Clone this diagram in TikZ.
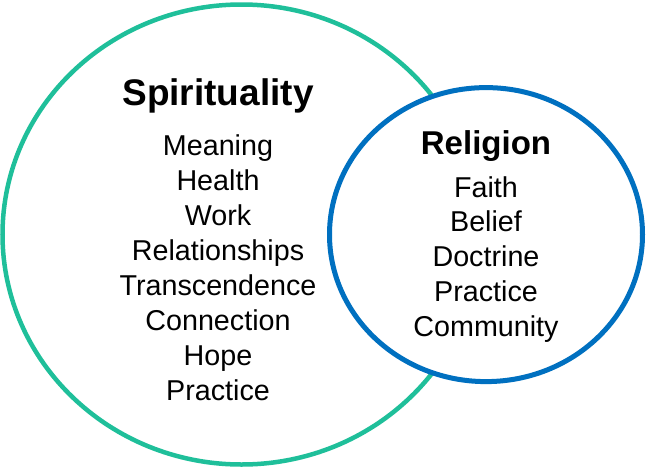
\documentclass[tikz,border=0pt]{standalone}
\usepackage{fontspec}
\setmainfont{Liberation Sans}
\usetikzlibrary{shapes.geometric}
\definecolor{spgreen}{HTML}{1FBF9A}
\definecolor{relblue}{HTML}{0070C0}
\begin{document}
\begin{tikzpicture}[x=1pt,y=-1pt,
  venn/.style={ellipse, inner sep=0pt, outer sep=0pt},
  title/.style={anchor=base, inner sep=0pt, font=\fontsize{37}{40}\selectfont\bfseries},
  rtitle/.style={anchor=base, inner sep=0pt, font=\fontsize{33}{38}\selectfont\bfseries},
  item/.style={anchor=base, inner sep=0pt, font=\fontsize{28.7}{33}\selectfont}]
\useasboundingbox (0,0) rectangle (646,469);
\node[venn, draw=spgreen, line width=4.5pt, minimum width=478pt, minimum height=460pt] (spirit) at (241.5,234.5) {};
\node[venn, draw=relblue, fill=white, line width=5pt, minimum width=313pt, minimum height=294pt] (relig) at (486,234.6) {};
\node[title] (st) at (218,105) {Spirituality};
\foreach \t [count=\i from 0] in {Meaning,Health,Work,Relationships,Transcendence,Connection,Hope,Practice}
  \node[item] (s\i) at (218,155+35*\i) {\t};
\node[rtitle] (rt) at (486,154) {Religion};
\foreach \t [count=\i from 0] in {Faith,Belief,Doctrine,Practice,Community}
  \node[item] (r\i) at (486,197+34.75*\i) {\t};
\end{tikzpicture}
\end{document}
